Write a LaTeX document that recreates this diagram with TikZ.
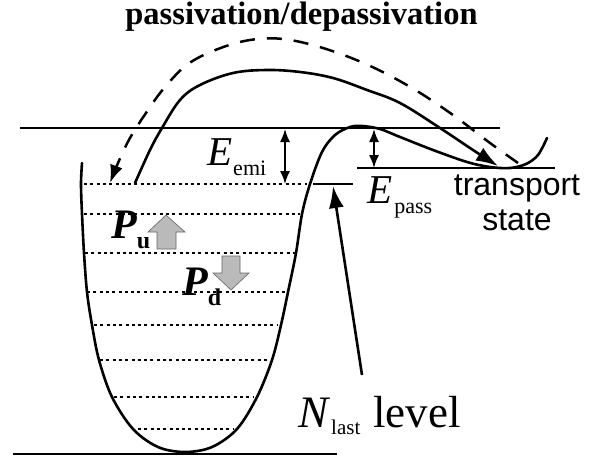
\documentclass[tikz,border=0pt]{standalone}
\usepackage{fontspec}
\setmainfont{Liberation Serif}
\setsansfont{Liberation Sans}
\usetikzlibrary{arrows.meta}
\begin{document}
\begin{tikzpicture}[x=1pt,y=-1pt,
  thinline/.style={line width=1.4pt},
  curve/.style={line width=2.6pt, line cap=round},
  levelline/.style={line width=2.7pt, dash pattern=on 3pt off 3.3pt},
  bigtip/.style={-{Latex[length=22pt,width=15pt]}},
  gaparrow/.style={line width=1.6pt, {Latex[length=13pt,width=10pt]}-{Latex[length=13pt,width=10pt]}},
  grayarrow/.style={fill=black!27, draw=black!60, line width=0.6pt},
  lbl/.style={anchor=base west, inner sep=0pt},
]
\useasboundingbox (0,0) rectangle (601,460);

% title
\node[anchor=base, inner sep=0pt, font=\fontsize{32.5}{39}\selectfont\bfseries] (title) at (301.5,25) {passivation/depassivation};

% horizontal lines
\coordinate (topL) at (20,128);  \coordinate (topR) at (500,128);
\coordinate (trL) at (357,168);  \coordinate (trR) at (555,168);
\coordinate (nlL) at (313,184);  \coordinate (nlR) at (353,184);
\coordinate (botL) at (13,454);  \coordinate (botR) at (337,454);
\draw[thinline] (topL) -- (topR);
\draw[thinline] (trL) -- (trR);
\draw[thinline] (nlL) -- (nlR);
\draw[line width=1.8pt] (botL) -- (botR);

% dotted levels
\foreach \y/\a/\b in {184/84/307, 214/84/300, 253/85/295, 292/87/285, 325/94/278, 360/100/270, 397/114/253, 429/138/233}
  \draw[levelline] (\a,\y) -- (\b,\y);

% potential curve
\draw[curve] plot[smooth, tension=0.55] coordinates {
 (82,163) (81,184) (82,214) (84,253) (87,292) (92,325) (99,360) (112,397) (133,429) (158,447) (185,452)
 (212,447) (237,429) (257,397) (272,360) (281,325) (288,292) (296,253) (302,214) (310,184) (322,152)
 (335,135) (350,127) (362,126) (380,129) (400,137) (433,150) (467,162) (490,167) (510,168) (526,164)
 (538,155) (547,138)};

% emission arrow (solid)
\draw[curve, line cap=butt, bigtip] plot[smooth, tension=0.6] coordinates {
 (135,183) (150,150) (162,128) (180,100) (200,85) (233,73) (267,70) (300,72) (333,78) (367,90)
 (400,103) (440,128) (473,150) (498,166)};

% passivation arrow (dashed)
\draw[line width=2.5pt, dash pattern=on 15pt off 12pt, -{Latex[length=18pt,width=13pt]}] plot[smooth, tension=0.6] coordinates {
 (518,163) (490,143) (453,115) (412,88) (368,65) (323,48) (283,39) (250,40) (218,49) (188,64)
 (165,87) (148,110) (130,138) (118,163) (110,183)};

% energy gap arrows
\coordinate (emiT) at (285,129); \coordinate (emiB) at (285,184);
\draw[gaparrow] (emiT) -- (emiB);
\coordinate (pasT) at (374,129); \coordinate (pasB) at (374,168);
\draw[gaparrow] (pasT) -- (pasB);

% N_last arrow
\coordinate (nlS) at (362,375); \coordinate (nlE) at (333,186);
\draw[line width=2.6pt, bigtip] (nlS) -- (nlE);

% gray arrows
\draw[grayarrow] (157,249) -- (157,232) -- (148,232) -- (166,215) -- (185,232) -- (176,232) -- (176,249) -- cycle;
\draw[grayarrow] (222,256) -- (240,256) -- (240,273) -- (249,273) -- (231,290) -- (213,273) -- (222,273) -- cycle;

% labels
\node[lbl] (eemi) at (207,165) {\fontsize{41}{41}\selectfont\itshape E\kern1pt\raisebox{-10pt}{\fontsize{22}{22}\selectfont\upshape emi}};
\node[lbl] (epass) at (367,203) {\fontsize{41}{41}\selectfont\itshape E\kern2pt\raisebox{-10pt}{\fontsize{22}{22}\selectfont\upshape pass}};
\node[lbl] (pu) at (111,238) {\fontsize{42}{42}\selectfont\bfseries\itshape P\raisebox{-10pt}{\fontsize{24}{24}\selectfont\upshape u}};
\node[lbl] (pd) at (182,295) {\fontsize{42}{42}\selectfont\bfseries\itshape P\raisebox{-10pt}{\fontsize{24}{24}\selectfont\upshape d}};
\node[lbl] (nlast) at (298,427) {\fontsize{45}{45}\selectfont\itshape N\kern3pt\raisebox{-7pt}{\fontsize{21}{21}\selectfont\upshape last}\hspace{13pt}\upshape level};
\node[anchor=base, align=center, inner sep=0pt, font=\sffamily\fontsize{32}{35}\selectfont] (ts) at (517,230) {transport\\state};
\end{tikzpicture}
\end{document}
